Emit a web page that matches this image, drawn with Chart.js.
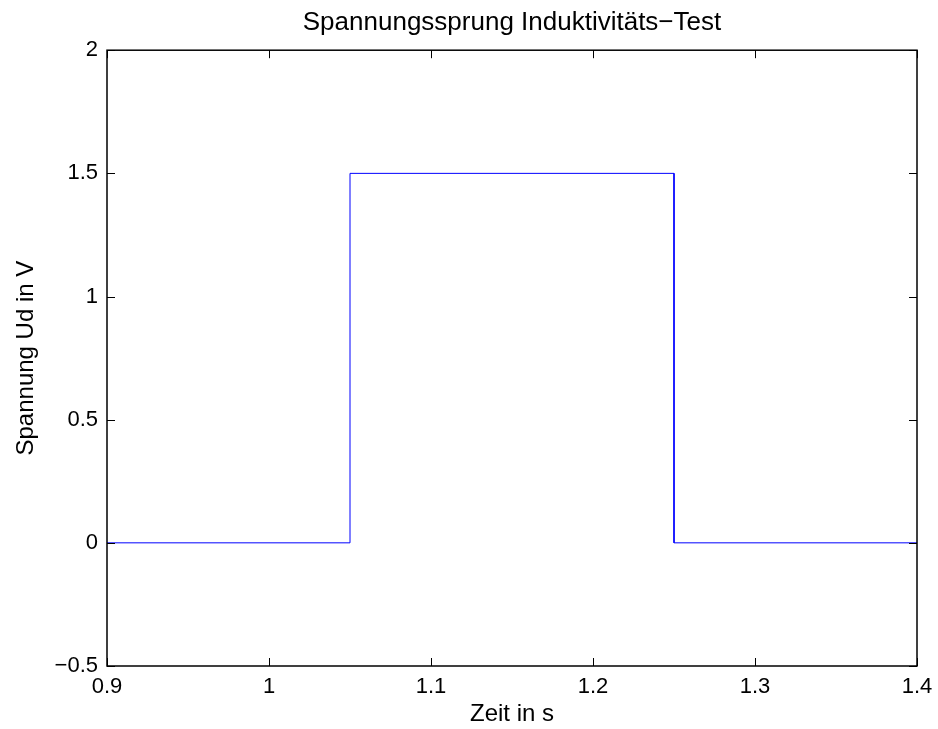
<!DOCTYPE html>
<html>
<head>
<meta charset="utf-8">
<script src="https://cdn.jsdelivr.net/npm/chart.js@4"></script>
<style>
  html, body { margin: 0; padding: 0; background: #fff; }
  #wrap { width: 938px; height: 729px; }
</style>
</head>
<body>
<div id="wrap"><canvas id="sprung"></canvas></div>
<script>
// Messwerte (Sprung)
const zeit = [0.9, 1.05, 1.05, 1.25, 1.25, 1.4];
const spannung = [0, 0, 1.5, 1.5, 0, 0];
const xTicks = [0.9, 1, 1.1, 1.2, 1.3, 1.4];
const yTicks = [-0.5, 0, 0.5, 1, 1.5, 2];

const fontFam = '"Liberation Sans", Arial, Helvetica, sans-serif';

// MATLAB-style ticks inside the box + box frame
const boxTicks = {
    id: 'boxTicks',
    afterDraw(chart) {
        const { ctx, chartArea: a, scales } = chart;
        const len = 8;
        ctx.save();
        ctx.strokeStyle = '#000';
        ctx.lineWidth = 1;
        ctx.beginPath();
        xTicks.forEach(v => {
            const px = Math.round(scales.x.getPixelForValue(v)) + 0.5;
            ctx.moveTo(px, a.bottom); ctx.lineTo(px, a.bottom - len);
            ctx.moveTo(px, a.top); ctx.lineTo(px, a.top + len);
        });
        yTicks.forEach(v => {
            const py = Math.round(scales.y.getPixelForValue(v)) + 0.5;
            ctx.moveTo(a.left, py); ctx.lineTo(a.left + len, py);
            ctx.moveTo(a.right, py); ctx.lineTo(a.right - len, py);
        });
        ctx.stroke();
        ctx.lineWidth = 1.5;
        ctx.strokeRect(a.left, a.top, a.right - a.left, a.bottom - a.top);
        ctx.restore();
    }
};

new Chart(document.querySelector('#sprung'), {
    type: 'scatter',
    data: {
        datasets: [{
            data: zeit.map((t, i) => ({ x: t, y: spannung[i] })),
            showLine: true,
            borderColor: '#0000ff',
            borderWidth: 1,
            pointRadius: 0,
            fill: false
        }]
    },
    options: {
        responsive: true,
        maintainAspectRatio: false,
        animation: false,
        layout: { padding: { left: 0, right: 21, top: 2, bottom: 0 } },
        scales: {
            x: {
                type: 'linear',
                min: 0.9,
                max: 1.4,
                afterBuildTicks: s => { s.ticks = xTicks.map(v => ({ value: v })); },
                afterFit: s => { s.height = 63; s.paddingLeft = 0; s.paddingRight = 0; },
                grid: { display: false, drawTicks: false },
                border: { display: false },
                ticks: {
                    padding: 8,
                    color: '#000',
                    font: { family: fontFam, size: 22 },
                    callback: v => String(v)
                },
                title: {
                    display: true,
                    text: 'Zeit in s',
                    color: '#000',
                    font: { family: fontFam, size: 24 },
                    padding: { top: 0, bottom: 0 }
                }
            },
            y: {
                type: 'linear',
                min: -0.5,
                max: 2,
                afterBuildTicks: s => { s.ticks = yTicks.map(v => ({ value: v })); },
                afterFit: s => { s.width = 107; s.paddingTop = 0; s.paddingBottom = 0; },
                grid: { display: false, drawTicks: false },
                border: { display: false },
                ticks: {
                    padding: 9,
                    color: '#000',
                    font: { family: fontFam, size: 22 },
                    callback: v => String(v).replace('-', '\u2212')
                },
                title: {
                    display: true,
                    text: 'Spannung Ud in V',
                    color: '#000',
                    font: { family: fontFam, size: 24 },
                    padding: { top: 12, bottom: 0 }
                }
            }
        },
        plugins: {
            legend: { display: false },
            tooltip: { enabled: false },
            title: {
                display: true,
                fullSize: false,
                text: 'Spannungssprung Induktivitäts\u2212Test',
                color: '#000',
                font: { family: fontFam, size: 26, weight: 'normal' },
                padding: { top: 5, bottom: 12 }
            }
        }
    },
    plugins: [boxTicks]
});
</script>
</body>
</html>
